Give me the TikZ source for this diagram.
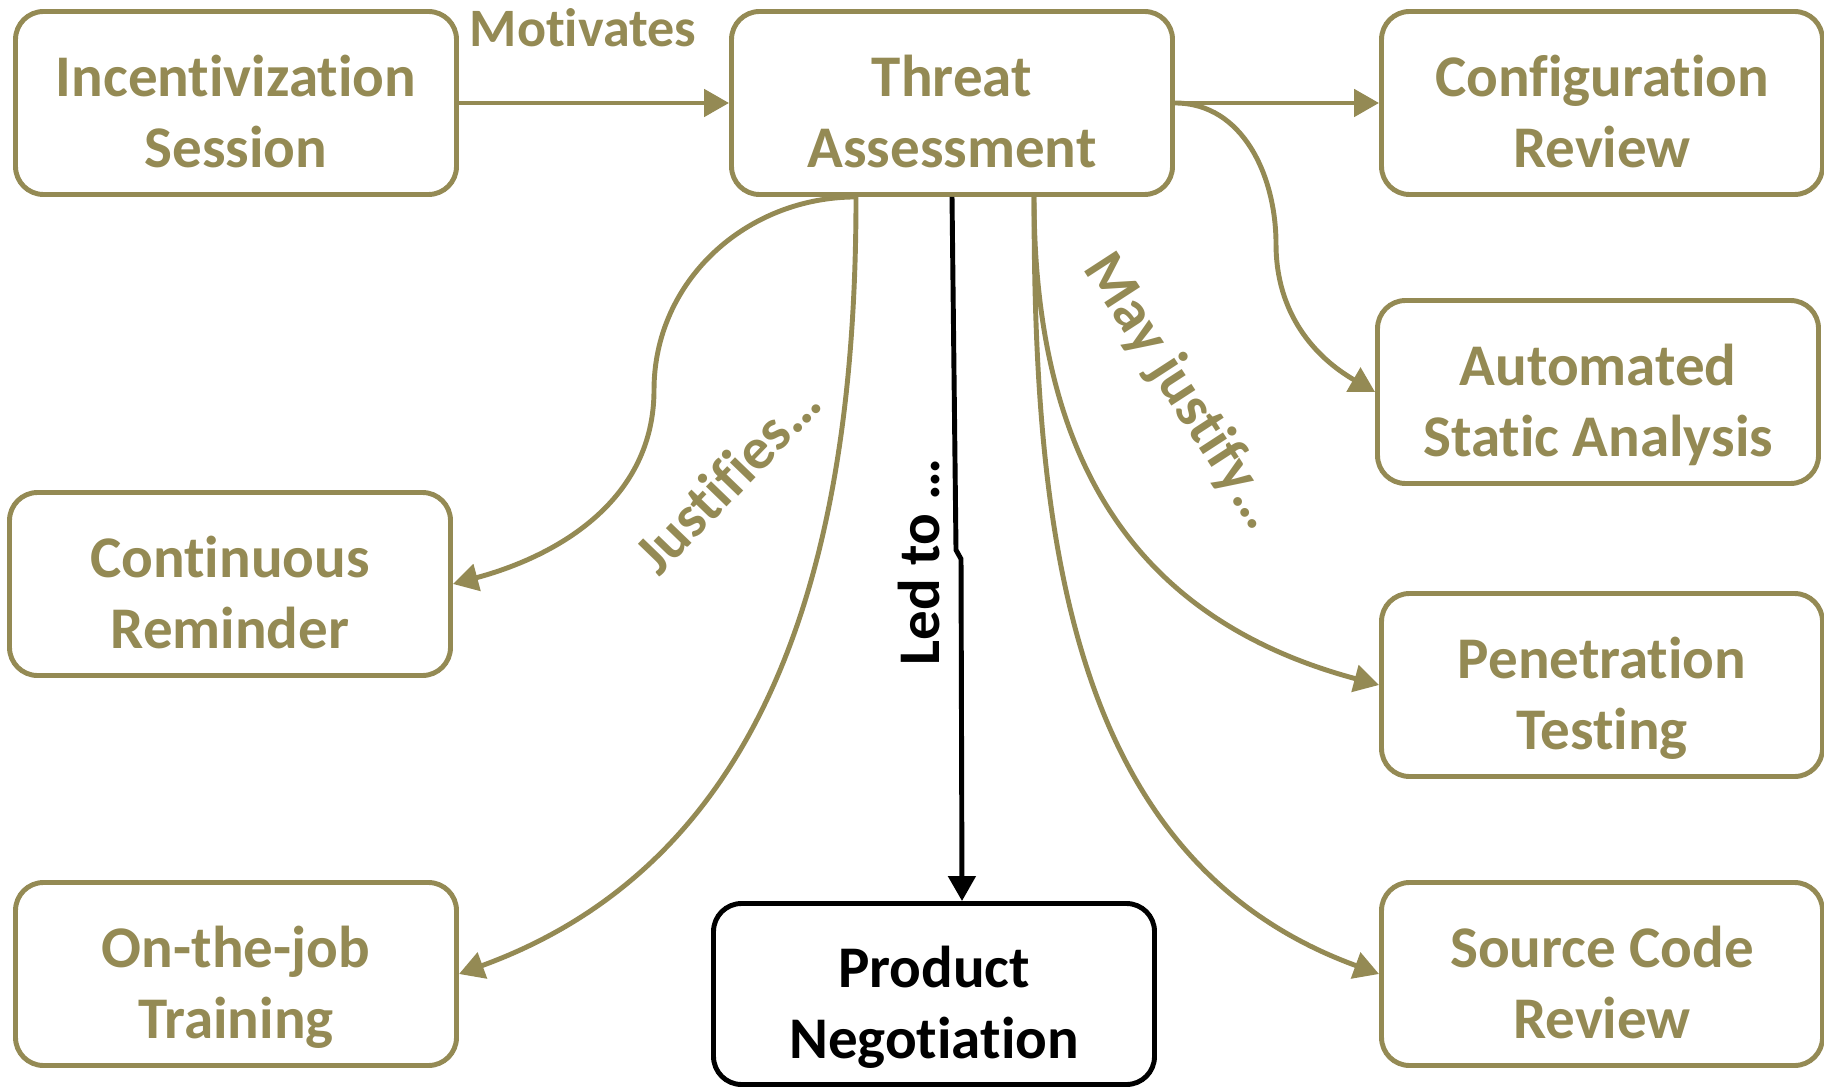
\documentclass[tikz,border=0pt]{standalone}
\usepackage{fontspec}
\setmainfont{Carlito}[Ligatures={NoCommon,NoRare}]
\usetikzlibrary{arrows.meta,positioning,calc}
\definecolor{olivebox}{RGB}{148,138,84}

\begin{document}
\begin{tikzpicture}[x=0.1mm, y=0.1mm,
  box/.style={draw=olivebox, text=olivebox, line width=1.4pt, rounded corners=2.8mm,
    fill=white, align=center, minimum width=44.1mm, minimum height=18.3mm, inner sep=0pt,
    font=\fontsize{16.8}{20.2}\selectfont\bfseries, text height=36.6pt, text depth=0pt},
  blackbox/.style={box, draw=black, text=black},
  conn/.style={draw=olivebox, line width=1.4pt, -{Triangle[length=2.5mm,width=2.7mm]}},
  ledconn/.style={conn, draw=black},
  lbl/.style={text=olivebox, inner sep=0pt, font=\fontsize{16.8}{20.2}\selectfont\bfseries}]
\useasboundingbox (0,0) rectangle (1824,-1088);
% boxes
\node[box] (inc) at (236,-103) {Incentivization\\Session};
\node[box] (threat) at (952,-103) {Threat\\Assessment};
\node[box] (config) at (1602,-103) {Configuration\\Review};
\node[box] (auto) at (1598,-392) {Automated\\Static Analysis};
\node[box] (cont) at (230,-584) {Continuous\\Reminder};
\node[box] (pen) at (1602,-685) {Penetration\\Testing};
\node[box] (otj) at (236,-974) {On-the-job\\Training};
\node[box] (src) at (1602,-974) {Source Code\\Review};
\node[blackbox, minimum height=18.1mm] (prod) at (934,-994) {Product\\Negotiation};
% bend points
\coordinate (autobend) at (1276,-244);
\coordinate (contbend) at (654,-390);
\coordinate (leftfoot) at ($(threat.south)+(-96,0)$);
\coordinate (rightfoot) at ($(threat.south)+(82,0)$);
% connectors
\draw[conn] (inc.east) -- (threat.west);
\draw[conn] (threat.east) -- (config.west);
\draw[conn] (threat.east) to[out=0,in=90] (autobend) to[out=-90,in=150] (auto.west);
\draw[conn] (leftfoot) to[out=180,in=90] (contbend) to[out=-90,in=15] (cont.east);
\draw[conn] (leftfoot) to[out=-90,in=20] (otj.east);
\draw[conn] (rightfoot) to[out=-90,in=165,looseness=1.1] (pen.west);
\draw[conn] (rightfoot) to[out=-90,in=160] (src.west);
\draw[ledconn] (threat.south) -- ++(4,-353) -- ++(5,-9) -- ($(prod.north)+(28,0)$);
% labels
\node[lbl, font=\fontsize{15.4}{18}\selectfont\bfseries] (motiv) at (583,-28) {Motivates};
\node[lbl, rotate=46] (justif) at (727,-478) {Justifies…};
\node[lbl, rotate=-57] (mayjust) at (1181,-392) {May justify…};
\node[lbl, text=black, rotate=90] (ledto) at (919,-562) {Led to …};
\end{tikzpicture}
\end{document}
